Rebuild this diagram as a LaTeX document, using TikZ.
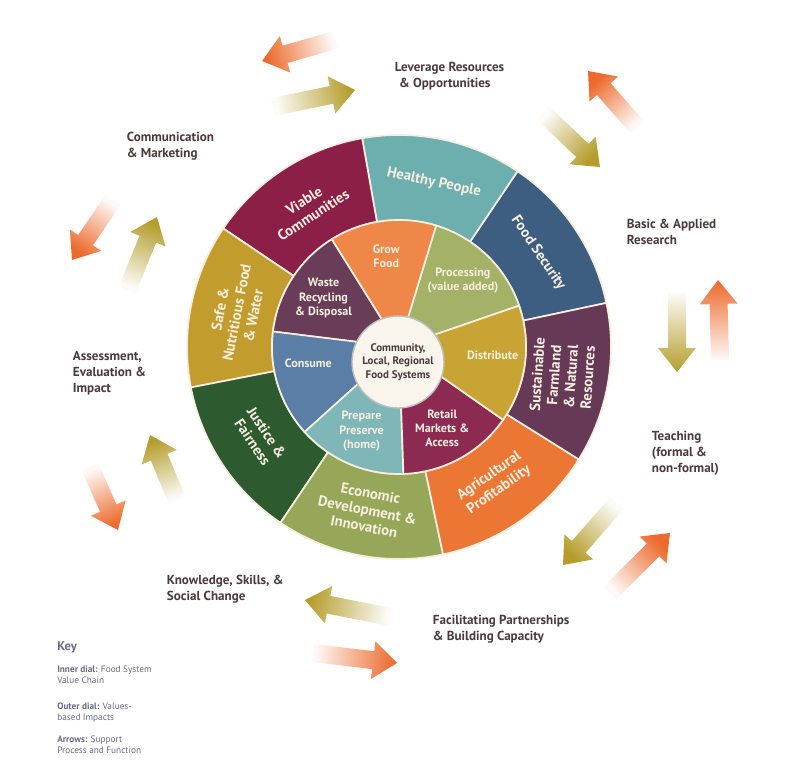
\documentclass[tikz,border=0pt]{standalone}
\usepackage{fontspec}
\setmainfont{PT Sans}
\usepackage{xcolor}
\usetikzlibrary{arrows.meta,positioning,calc}

\definecolor{cream}{HTML}{F6EFDF}
\definecolor{labeltext}{HTML}{4A3A3C}
\definecolor{keytext}{HTML}{6B6A80}
\definecolor{arrorange}{HTML}{EC6A2C}
\definecolor{arryellow}{HTML}{B59D2C}
% outer dial
\definecolor{cviable}{HTML}{8C1F47}
\definecolor{chealthy}{HTML}{6DAEAE}
\definecolor{cfoodsec}{HTML}{3D5E80}
\definecolor{csustain}{HTML}{663A57}
\definecolor{cagri}{HTML}{EC7634}
\definecolor{cecon}{HTML}{97A75A}
\definecolor{cjustice}{HTML}{2E5A2F}
\definecolor{csafe}{HTML}{C39C2E}
% inner dial
\definecolor{cgrow}{HTML}{EE8747}
\definecolor{cprocess}{HTML}{A3B266}
\definecolor{cdistrib}{HTML}{C8A434}
\definecolor{cretail}{HTML}{8C2A52}
\definecolor{cprepare}{HTML}{7FB6B8}
\definecolor{cconsume}{HTML}{5A7EA6}
\definecolor{cwaste}{HTML}{693C58}

% fat arrow from (x1,y1) to (x2,y2), faded at its tail
\newcommand\fatarrow[5]{%
	\pgfmathsetmacro\arrang{atan2(#4-#2,#3-#1)}%
	\pgfmathsetmacro\arrlen{veclen(#3-#1,#4-#2)}%
	\begin{scope}[shift={(#1,#2)},rotate=\arrang]
		\shade[bottom color=#5!4, top color=#5, shading angle=\arrang-90]
			(0,-9) -- (\arrlen-24,-9) -- (\arrlen-24,-19) -- (\arrlen,0)
			-- (\arrlen-24,19) -- (\arrlen-24,9) -- (0,9) -- cycle;
	\end{scope}}

\begin{document}
\begin{tikzpicture}[
		x = 0.025cm, y = 0.025cm, % one unit = one pixel of the reference
		font = \bfseries
	]
	
	\tikzstyle{outer label}=[
	text = labeltext,
	align = left,
	anchor = north west,
	font = \fontsize{9.3}{11.4}\selectfont\bfseries
	]
	\tikzstyle{dial text}=[
	text = cream,
	align = center,
	font = \fontsize{10.5}{12}\selectfont\bfseries
	]
	\tikzstyle{inner text}=[
	text = cream,
	align = center,
	font = \fontsize{8.6}{10}\selectfont\bfseries
	]
	\tikzstyle{key text}=[
	text = keytext,
	align = left,
	anchor = north west,
	inner sep = 0pt,
	font = \fontsize{6.6}{7.6}\selectfont\mdseries
	]
	
	\useasboundingbox[fill = white] (0,0) rectangle (800,763);
	
	\coordinate (c) at (399,416);
	
	% outer dial: values-based impacts
	\begin{scope}[shift = {(c)}]
		\foreach \a/\b/\col in {12/56/cfoodsec, 56/100/chealthy, 100/146/cviable,
			146/191/csafe, 191/236/cjustice, 236/282/cecon, 282/328/cagri, 328/372/csustain}
		\filldraw[fill = \col, draw = cream, line width = 1.2pt]
			(\a:212) arc[start angle = \a, end angle = \b, radius = 212]
			-- (\b:127) arc[start angle = \b, end angle = \a, radius = 127] -- cycle;
		
		% inner dial: food system value chain
		\foreach \a/\b/\col in {19/73/cprocess, 73/122/cgrow, 122/173/cwaste,
			173/222/cconsume, 222/272/cprepare, 272/325/cretail, 325/379/cdistrib}
		\filldraw[fill = \col, draw = cream, line width = 1.2pt]
			(0,0) -- (\a:127) arc[start angle = \a, end angle = \b, radius = 127] -- cycle;
		
		\node[dial text, rotate = -56] (foodsec) at (34:168) {Food Security};
		\node[dial text, rotate = -12] (healthy) at (78:168) {Healthy People};
		\node[dial text, rotate = 33] (viable) at (123:166) {Viable\\Communities};
		\node[dial text, rotate = 79] (safe) at (168:166) {Safe \&\\Nutritious Food\\\& Water};
		\node[dial text, rotate = -56] (justice) at (213:166) {Justice \&\\Fairness};
		\node[dial text, rotate = -11] (econ) at (259:166) {Economic\\Development \&\\Innovation};
		\node[dial text, rotate = 35] (agri) at (305:166) {Agricultural\\Profitability};
		\node[dial text, rotate = 86] (sustain) at (350:166) {Sustainable\\Farmland\\\& Natural\\Resources};
		
		\node[inner text] (process) at (46:92) {Processing\\(value added)};
		\node[inner text] (grow) at (98:92) {Grow\\Food};
		\node[inner text] (waste) at (147:90) {Waste\\Recycling\\\& Disposal};
		\node[inner text] (consume) at (190:92) {Consume};
		\node[inner text] (prepare) at (246:92) {Prepare\\Preserve\\(home)};
		\node[inner text] (retail) at (298:92) {Retail\\Markets \&\\Access};
		\node[inner text] (distrib) at (355:94) {Distribute};
	\end{scope}
	
	% hub
	\node[circle, fill = cream!60, draw = gray!50, line width = 1pt, minimum size = 92*0.025cm,
		text = labeltext, align = center, inner sep = 0pt,
		font = \fontsize{7.8}{9.4}\selectfont\bfseries] (hub) at (398,401)
		{Community,\\Local, Regional\\Food Systems};
	
	% support arrows
	\fatarrow{335}{723}{262}{702}{arrorange}
	\fatarrow{273}{656}{355}{673}{arryellow}
	\fatarrow{637}{636}{588}{692}{arrorange}
	\fatarrow{543}{650}{600}{596}{arryellow}
	\fatarrow{677}{470}{677}{391}{arryellow}
	\fatarrow{720}{403}{718}{483}{arrorange}
	\fatarrow{617}{260}{563}{198}{arryellow}
	\fatarrow{610}{170}{670}{230}{arrorange}
	\fatarrow{390}{146}{305}{163}{arryellow}
	\fatarrow{313}{110}{397}{100}{arrorange}
	\fatarrow{177}{263}{150}{328}{arryellow}
	\fatarrow{90}{296}{118}{233}{arrorange}
	\fatarrow{113}{563}{72}{503}{arrorange}
	\fatarrow{127}{473}{157}{546}{arryellow}
	
	% functions around the dial
	\node[outer label] (leverage) at (390,706) {Leverage Resources\\\hspace*{3pt}\& Opportunities};
	\node[outer label] (comm) at (122,636) {Communication\\\& Marketing};
	\node[outer label] (research) at (622,549) {Basic \& Applied\\Research};
	\node[outer label] (assess) at (68,417) {Assessment,\\Evaluation \&\\Impact};
	\node[outer label] (teach) at (647,337) {Teaching\\(formal \&\\non-formal)};
	\node[outer label] (know) at (162,193) {Knowledge, Skills, \&\\Social Change};
	\node[outer label] (partner) at (428,153) {Facilitating Partnerships\\\& Building Capacity};
	
	% key
	\node[text = keytext, anchor = north west, inner sep = 0pt,
		font = \fontsize{9}{10}\selectfont\bfseries] (key) at (57,122) {Key};
	\node[key text] (keyinner) at (57,97) {\textbf{Inner dial:} Food System\\Value Chain};
	\node[key text] (keyouter) at (57,60) {\textbf{Outer dial:} Values-\\based Impacts};
	\node[key text] (keyarrows) at (57,27) {\textbf{Arrows:} Support\\Process and Function};
\end{tikzpicture}
\end{document}
